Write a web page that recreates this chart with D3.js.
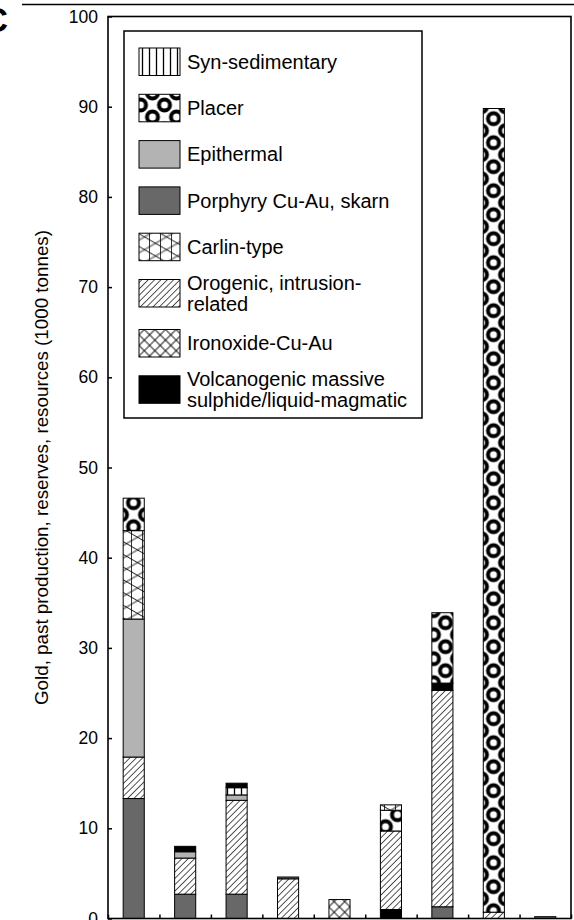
<!DOCTYPE html>
<html>
<head>
<meta charset="utf-8">
<script src="https://cdn.jsdelivr.net/npm/d3@7"></script>
<style>
  body { margin: 0; background: #fff; }
  svg { display: block; font-family: "Liberation Sans", Arial, sans-serif; }
</style>
</head>
<body>
<script>
const categories = ["1", "2", "3", "4", "5", "6", "7", "8", "9"];
const seriesKeys = ["syn", "placer", "epi", "por", "carlin", "oro", "iox", "vms"];
const seriesLabels = [
    ["Syn-sedimentary"],
    ["Placer"],
    ["Epithermal"],
    ["Porphyry Cu-Au, skarn"],
    ["Carlin-type"],
    ["Orogenic, intrusion-", "related"],
    ["Ironoxide-Cu-Au"],
    ["Volcanogenic massive", "sulphide/liquid-magmatic"]
];

// segments of each bar, bottom to top
const barSeries = [
    ["por", "oro", "epi", "carlin", "placer"],
    ["por", "oro", "epi", "vms"],
    ["por", "oro", "epi", "syn", "vms"],
    ["oro", "por"],
    ["iox"],
    ["vms", "oro", "placer", "carlin"],
    ["por", "oro", "vms", "placer"],
    ["oro", "placer"],
    ["por"]
];
const barValues = [
    [13.3, 4.6, 15.3, 9.8, 3.6],
    [2.7, 4.0, 0.7, 0.6],
    [2.7, 10.4, 0.6, 0.8, 0.5],
    [4.4, 0.2],
    [2.1],
    [1.0, 8.7, 2.3, 0.6],
    [1.3, 24.0, 0.8, 7.8],
    [0.7, 89.1],
    [0.2]
];
const yTicks = [0, 10, 20, 30, 40, 50, 60, 70, 80, 90, 100];
const yTitle = "Gold, past production, reserves, resources (1000 tonnes)";
const panelLabel = "C";

const width = 574, height = 920;
const plotLeft = 108, plotRight = 571, plotTop = 16.5, plotBottom = 918.5;

const svg = d3.select("body").append("svg")
    .attr("width", width)
    .attr("height", height);

const defs = svg.append("defs");

// fill patterns
const syn = defs.append("pattern").attr("id", "p-syn")
    .attr("patternUnits", "userSpaceOnUse").attr("width", 7).attr("height", 10);
syn.append("rect").attr("width", 7).attr("height", 10).attr("fill", "#fff");
syn.append("line").attr("x1", 3.5).attr("x2", 3.5).attr("y1", 0).attr("y2", 10)
    .attr("stroke", "#000").attr("stroke-width", 1.3);

const oro = defs.append("pattern").attr("id", "p-oro")
    .attr("patternUnits", "userSpaceOnUse").attr("width", 4.5).attr("height", 4.5)
    .attr("patternTransform", "rotate(45)");
oro.append("rect").attr("width", 4.5).attr("height", 4.5).attr("fill", "#fff");
oro.append("line").attr("x1", 2.25).attr("x2", 2.25).attr("y1", 0).attr("y2", 4.5)
    .attr("stroke", "#444").attr("stroke-width", 0.9);

const iox = defs.append("pattern").attr("id", "p-iox")
    .attr("patternUnits", "userSpaceOnUse").attr("width", 7.5).attr("height", 7.5)
    .attr("patternTransform", "rotate(45)");
iox.append("rect").attr("width", 7.5).attr("height", 7.5).attr("fill", "#fff");
iox.append("path").attr("d", "M3.75,0V7.5M0,3.75H7.5")
    .attr("stroke", "#000").attr("stroke-width", 0.9);

const placer = defs.append("pattern").attr("id", "p-placer")
    .attr("patternUnits", "userSpaceOnUse").attr("width", 24).attr("height", 24)
    .attr("x", 1.5).attr("y", 10.7);
placer.append("rect").attr("width", 24).attr("height", 24).attr("fill", "#fff");
placer.selectAll("circle").data([[0, 0], [24, 0], [0, 24], [24, 24], [12, 12]]).join("circle")
    .attr("cx", d => d[0]).attr("cy", d => d[1]).attr("r", 5.5)
    .attr("fill", "none").attr("stroke", "#000").attr("stroke-width", 4);

// carlin: three line families making a triangle net
[[90, 0], [30, 0], [-30, 5.5]].forEach(([angle, off], i) => {
    const p = defs.append("pattern").attr("id", "p-carlin" + i)
        .attr("patternUnits", "userSpaceOnUse").attr("width", 20).attr("height", 11)
        .attr("patternTransform", `rotate(${angle})`);
    p.append("line").attr("x1", 0).attr("x2", 20).attr("y1", off + 0.5).attr("y2", off + 0.5)
        .attr("stroke", "#000").attr("stroke-width", 0.8);
});
const carlin = defs.append("pattern").attr("id", "p-carlin")
    .attr("patternUnits", "userSpaceOnUse").attr("width", width).attr("height", height);
carlin.append("rect").attr("width", width).attr("height", height).attr("fill", "#fff");
[0, 1, 2].forEach(i => carlin.append("rect").attr("width", width).attr("height", height)
    .attr("fill", `url(#p-carlin${i})`));

const fills = {
    syn: "url(#p-syn)",
    placer: "url(#p-placer)",
    epi: "#b3b3b3",
    por: "#686868",
    carlin: "url(#p-carlin)",
    oro: "url(#p-oro)",
    iox: "url(#p-iox)",
    vms: "#000"
};

// top rule and panel letter
svg.append("line").attr("x1", 22).attr("x2", width).attr("y1", 4.5).attr("y2", 4.5)
    .attr("stroke", "#000").attr("stroke-width", 1.5);
svg.append("text").attr("x", 8).attr("y", 32).attr("text-anchor", "end")
    .attr("font-size", 35).attr("font-weight", "bold").text(panelLabel);

const x = d3.scaleBand().domain(categories).range([plotLeft, plotRight])
    .paddingInner(0.59).paddingOuter(0.295);
const xEdge = d3.scaleLinear().domain([0, categories.length]).range([plotLeft, plotRight]);
const y = d3.scaleLinear().domain([0, 100]).range([plotBottom, plotTop]);

// bars
const bars = svg.append("g").selectAll("g").data(categories).join("g");
bars.each(function (c, i) {
    let base = 0;
    const segs = barValues[i].map((v, j) => {
        const s = { key: barSeries[i][j], y0: base, y1: base + v };
        base += v;
        return s;
    });
    d3.select(this).selectAll("rect").data(segs).join("rect")
        .attr("x", x(c))
        .attr("width", x.bandwidth())
        .attr("y", d => y(d.y1))
        .attr("height", d => y(d.y0) - y(d.y1))
        .attr("fill", d => fills[d.key])
        .attr("stroke", "#000")
        .attr("stroke-width", 1);
});

// axes
const yAxis = svg.append("g").attr("transform", `translate(${plotLeft},0)`)
    .call(d3.axisLeft(y).tickValues(yTicks).tickSizeInner(-4).tickSizeOuter(0).tickPadding(10));
yAxis.select(".domain").remove();
yAxis.selectAll("line").attr("stroke-width", 1.5);
yAxis.selectAll("text").attr("font-size", 17.5).attr("fill", "#000");
yAxis.attr("font-family", null);

const xAxis = svg.append("g").attr("transform", `translate(0,${plotBottom})`)
    .call(d3.axisBottom(xEdge).ticks(categories.length).tickSizeInner(-4).tickSizeOuter(0).tickFormat(""));
xAxis.select(".domain").remove();
xAxis.selectAll("line").attr("stroke-width", 1.5);

svg.append("rect").attr("x", plotLeft).attr("y", plotTop)
    .attr("width", plotRight - plotLeft).attr("height", plotBottom - plotTop)
    .attr("fill", "none").attr("stroke", "#000").attr("stroke-width", 1.6);

svg.append("text")
    .attr("transform", `translate(48,${(plotTop + plotBottom) / 2}) rotate(-90)`)
    .attr("text-anchor", "middle")
    .attr("font-size", 18.8)
    .text(yTitle);

// legend
svg.append("rect").attr("x", 124).attr("y", 31).attr("width", 298).attr("height", 387)
    .attr("fill", "#fff").attr("stroke", "#000").attr("stroke-width", 1.5);
let ly = 48;
seriesKeys.forEach((k, i) => {
    const g = svg.append("g").attr("transform", `translate(139,${ly})`);
    g.append("rect").attr("width", 41).attr("height", 27.5)
        .attr("fill", fills[k]).attr("stroke", "#000").attr("stroke-width", 1);
    const lines = seriesLabels[i];
    g.append("text").attr("x", 48).attr("font-size", 20)
        .selectAll("tspan").data(lines).join("tspan")
        .attr("x", 48)
        .attr("y", (d, j) => 13.75 + 7 + (j - (lines.length - 1) / 2) * 21)
        .text(d => d);
    ly += 46.3 + (lines.length > 1 ? 3.7 : 0);
});
</script>
</body>
</html>
